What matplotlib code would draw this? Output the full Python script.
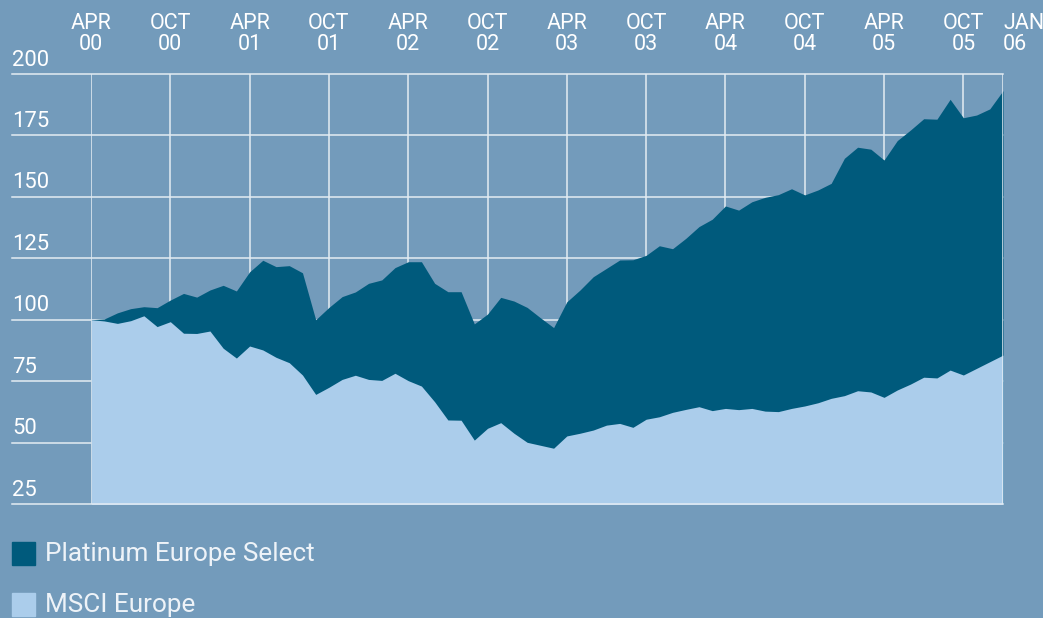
import numpy as np
import matplotlib.pyplot as plt
from matplotlib.patches import Rectangle

# Monthly index values, Apr 2000 .. Jan 2006 (rebased to 100)
platinum = [100.0, 100.3, 102.8, 104.5, 105.3, 104.9, 108.0, 110.7, 109.2, 112.1,
            114.0, 111.7, 119.5, 124.2, 121.6, 122.0, 119.1, 100.0, 105.0, 109.4,
            111.3, 114.8, 116.2, 121.2, 123.6, 123.6, 114.8, 111.4, 111.4, 98.3,
            102.3, 109.1, 107.6, 105.0, 100.8, 96.8, 107.3, 112.1, 117.5, 120.9,
            124.3, 124.4, 126.2, 130.1, 128.9, 133.1, 137.9, 140.9, 146.3, 144.6,
            148.0, 149.8, 150.9, 153.3, 150.8, 152.8, 155.5, 165.7, 170.2, 169.4,
            165.0, 172.9, 177.2, 181.8, 181.6, 189.7, 182.2, 183.3, 185.8, 193.2]
msci = [100.0, 99.5, 98.5, 99.6, 101.6, 97.2, 99.2, 94.5, 94.4, 95.4,
        88.4, 84.4, 89.3, 87.7, 84.7, 82.5, 77.5, 69.6, 72.5, 75.7,
        77.4, 75.7, 75.3, 78.2, 75.2, 73.0, 66.6, 59.2, 59.1, 51.0,
        55.8, 58.1, 53.8, 50.1, 48.9, 47.7, 52.7, 53.8, 55.1, 57.1,
        57.8, 56.2, 59.5, 60.5, 62.3, 63.5, 64.6, 63.0, 63.9, 63.4,
        63.9, 62.8, 62.6, 63.9, 64.9, 66.2, 68.0, 69.1, 71.1, 70.6,
        68.4, 71.4, 73.8, 76.6, 76.3, 79.5, 77.5, 80.2, 82.9, 85.6]

tick_months = [0, 6, 12, 18, 24, 30, 36, 42, 48, 54, 60, 66, 69]
tick_labels = ['APR\n00', 'OCT\n00', 'APR\n01', 'OCT\n01', 'APR\n02', 'OCT\n02',
               'APR\n03', 'OCT\n03', 'APR\n04', 'OCT\n04', 'APR\n05', 'OCT\n05',
               'JAN\n06']
y_levels = [25, 50, 75, 100, 125, 150, 175, 200]
series_names = ['Platinum Europe Select', 'MSCI Europe']

bg = '#739bbb'
dark = '#005a7c'
light = '#abcdeb'
grid = '#e4ecf3'

plt.rcParams['font.family'] = ['Roboto', 'DejaVu Sans']

fig = plt.figure(figsize=(10.43, 6.18), dpi=100, facecolor=bg)
ax = fig.add_axes([91 / 1043, 114 / 618, 912 / 1043, 430 / 618])
ax.set_facecolor(bg)

x = np.arange(len(platinum))
ax.fill_between(x, 0, platinum, color=dark, lw=0, zorder=2)
ax.fill_between(x, 0, msci, color=light, lw=0, zorder=3)

ax.set_xlim(0, len(platinum) - 1)
ax.set_ylim(25, 200)

# grid: horizontal lines run out to the left edge under the labels
ytr = ax.get_yaxis_transform()
left_ext = -79 / 912
for yv in y_levels:
    ax.plot([left_ext, 1], [yv, yv], color=grid, lw=1.1, transform=ytr,
            clip_on=False, zorder=1 if yv not in (25, 200) else 4)
    ax.text(left_ext, yv + 1.4, str(yv), transform=ytr, ha='left', va='bottom',
            color='white', fontsize=15.8)
for m in tick_months:
    z = 4 if m in (0, len(platinum) - 1) else 1
    ax.axvline(m, color=grid, lw=1.1, zorder=z)

ax.set_xticks(tick_months)
ax.set_xticklabels(tick_labels, color='white', fontsize=15.5, linespacing=1.0)
ax.xaxis.tick_top()
ax.tick_params(axis='x', length=0, pad=14)
ax.set_yticks([])
labels = ax.get_xticklabels()
labels[-1].set_horizontalalignment('left')
for s in ax.spines.values():
    s.set_visible(False)

# legend
for i, (name, col) in enumerate(zip(series_names, [dark, light])):
    y0 = 1 - (565 + 51 * i) / 618
    fig.patches.append(Rectangle((12 / 1043, y0), 23 / 1043, 23 / 618,
                                 transform=fig.transFigure, color=col))
    fig.text(45 / 1043, y0 + 11 / 618, name, color='#eef3f8', fontsize=18.8,
             va='center', ha='left')

fig.savefig('out.png', dpi=100, facecolor=bg)
